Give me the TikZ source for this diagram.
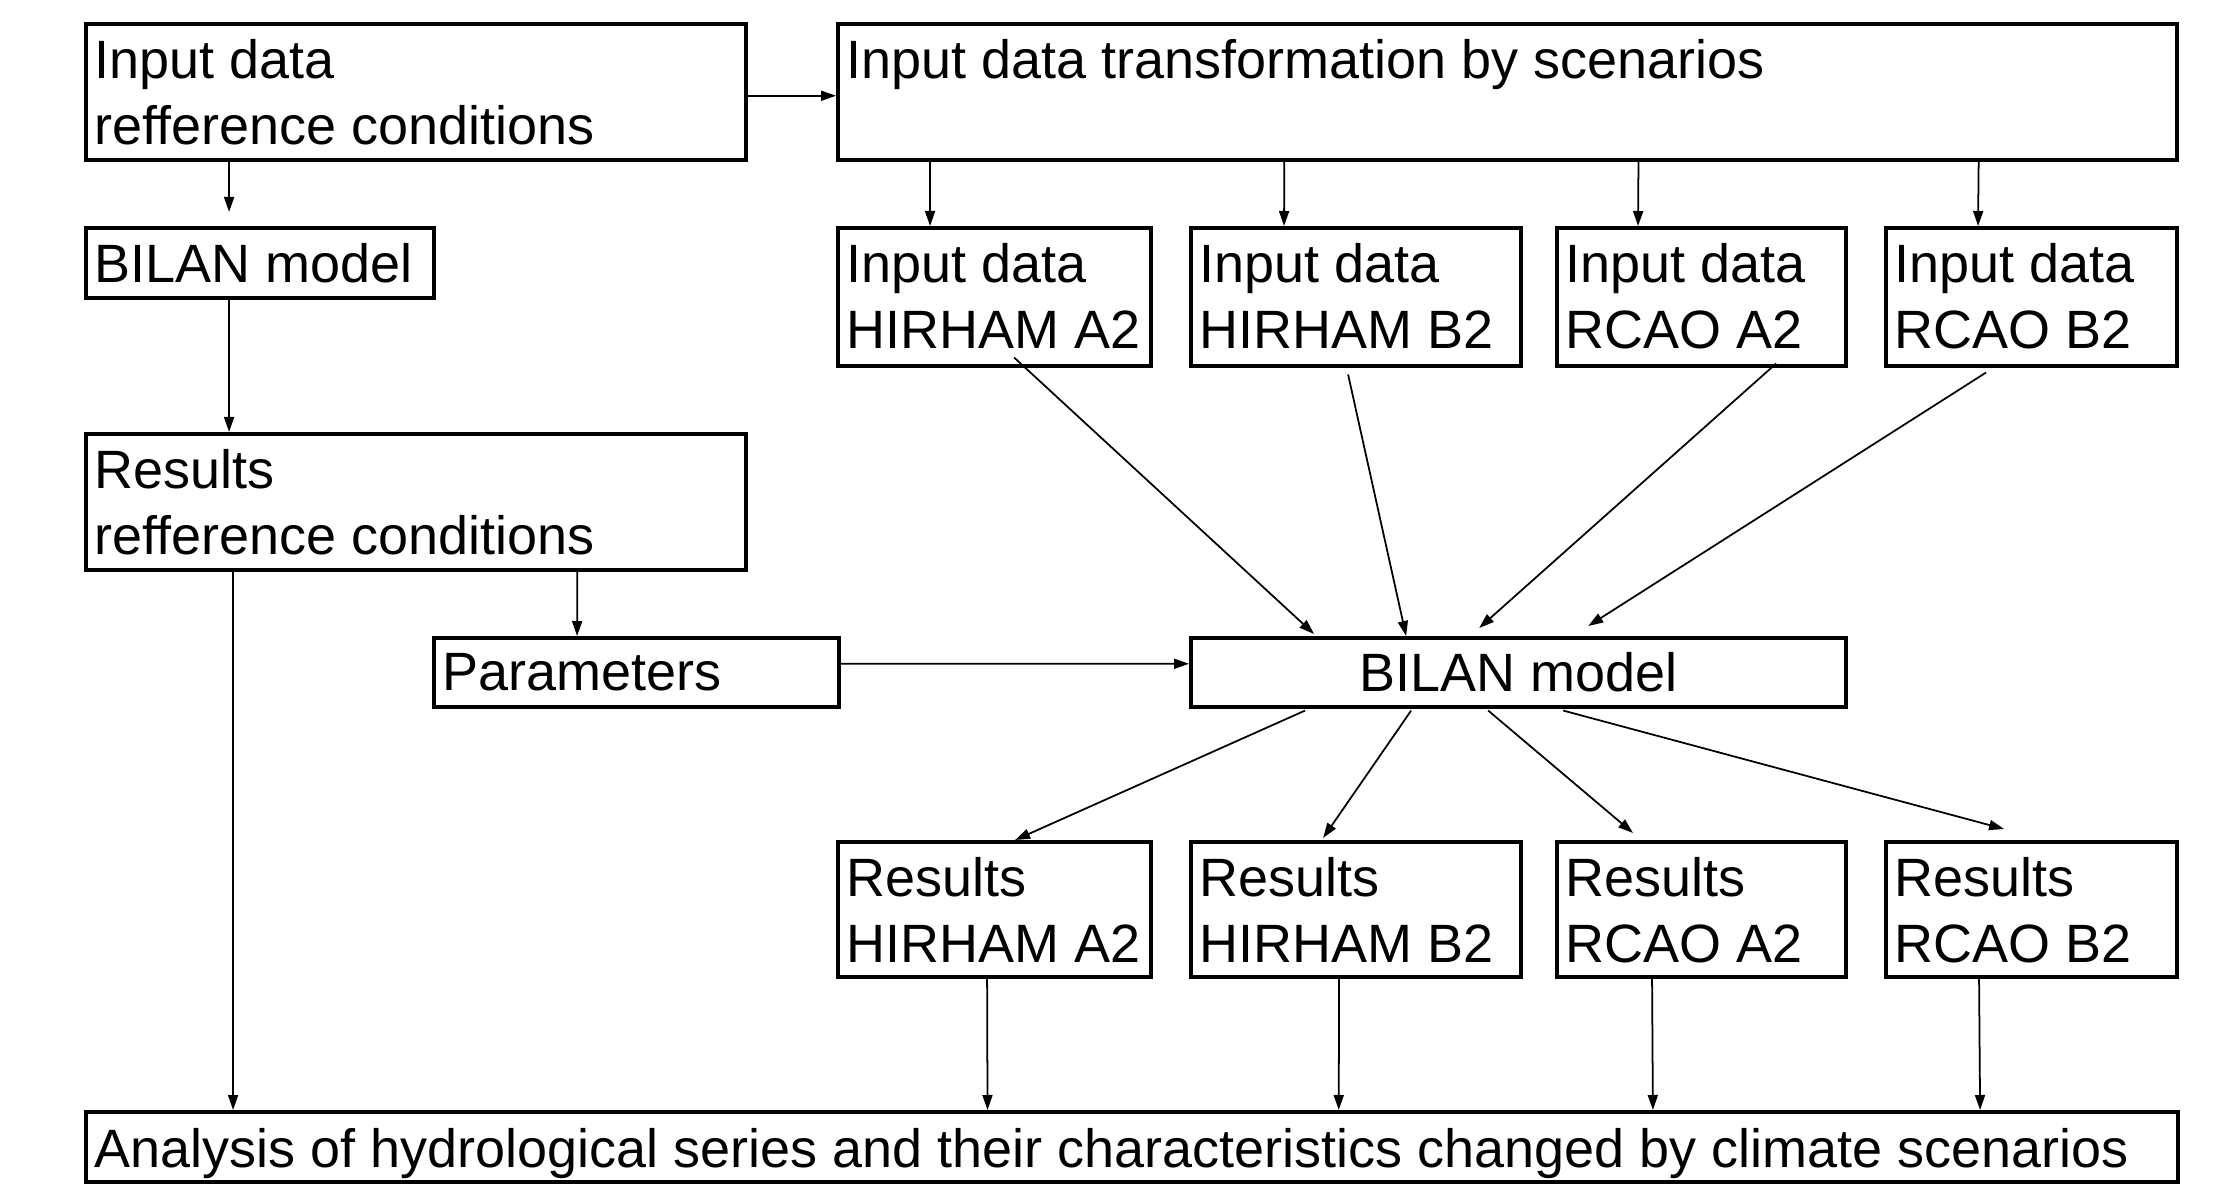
\documentclass[tikz,border=0pt]{standalone}
\usepackage{fontspec}
\setmainfont{Liberation Sans}
\usetikzlibrary{arrows.meta}

\tikzset{
  box/.style={draw, line width=1pt, inner sep=0pt, anchor=north west},
  boxtext/.style={anchor=north west, inner sep=0pt, align=left,
    font=\fontsize{15.35}{18.8}\selectfont},
  arr/.style={-{Triangle[length=0.15cm,width=0.1cm]}, line width=0.5pt},
}

% \flowbox{name}{x1}{y1}{x2}{y2}{text}: framed box with its text in the top left corner
\newcommand\flowbox[6]{%
  \node[box, minimum width={(#4-#2)*0.01cm}, minimum height={(#5-#3)*0.01cm}] (#1) at (#2,#3) {};
  \node[boxtext] (#1-text) at ([shift={(0.10cm,-0.17cm)}]#1.north west) {#6};
}

\begin{document}
\begin{tikzpicture}[x=0.01cm, y=-0.01cm]
  \useasboundingbox (0,0) rectangle (2221,1185);

  % reference branch
  \flowbox{inref}{84}{22}{744}{158}{Input data\\refference conditions}
  \flowbox{bil1}{84}{226}{432}{296}{BILAN model}
  \flowbox{resref}{84}{432}{744}{568}{Results\\refference conditions}
  \flowbox{par}{432}{636}{837}{705}{Parameters}

  % scenario branch
  \flowbox{trans}{836}{22}{2175}{158}{Input data transformation by scenarios}
  \flowbox{ia2}{836}{226}{1149}{364}{Input data\\HIRHAM A2}
  \flowbox{ib2}{1189}{226}{1519}{364}{Input data\\HIRHAM B2}
  \flowbox{ra2}{1555}{226}{1844}{364}{Input data\\RCAO A2}
  \flowbox{rb2}{1884}{226}{2175}{364}{Input data\\RCAO B2}

  \node[box, minimum width=6.55cm, minimum height=0.69cm,
        font=\fontsize{15.35}{18.8}\selectfont] (bil2) at (1189,636) {BILAN model};

  \flowbox{rha2}{836}{840}{1149}{975}{Results\\HIRHAM A2}
  \flowbox{rhb2}{1189}{840}{1519}{975}{Results\\HIRHAM B2}
  \flowbox{rra2}{1555}{840}{1844}{975}{Results\\RCAO A2}
  \flowbox{rrb2}{1884}{840}{2175}{975}{Results\\RCAO B2}

  \node[box, minimum width=20.91cm, minimum height=0.70cm] (ana) at (84,1110) {};
  \node[boxtext] (ana-text) at ([shift={(0.10cm,-0.18cm)}]ana.north west)
    {Analysis of hydrological series and their characteristics changed by climate scenarios};

  % reference branch connectors
  \draw[arr] ([yshift=-0.04cm]inref.east) -- ([yshift=-0.04cm]trans.west);
  \draw[arr, shorten >=0.14cm] ([xshift=1.45cm]inref.south west) -- ([xshift=1.45cm]bil1.north west);
  \draw[arr] ([xshift=1.45cm]bil1.south west) -- ([xshift=1.45cm]resref.north west);
  \draw[arr] ([xshift=1.49cm]resref.south west) -- ([xshift=1.49cm]ana.north west);
  \draw[arr] ([xshift=4.93cm]resref.south west) -- ([xshift=1.45cm]par.north west);
  \draw[arr] ([yshift=0.085cm]par.east) -- ([yshift=0.085cm]bil2.west);

  % scenario inputs
  \draw[arr] ([xshift=0.94cm]trans.south west) -- ([xshift=0.94cm]ia2.north west);
  \draw[arr] ([xshift=4.48cm]trans.south west) -- ([xshift=0.95cm]ib2.north west);
  \draw[arr] ([xshift=8.02cm]trans.south west) -- ([xshift=0.83cm]ra2.north west);
  \draw[arr] ([xshift=11.42cm]trans.south west) -- ([xshift=0.94cm]rb2.north west);

  % inputs into the model
  \draw[arr] ([shift={(1.78cm,0.10cm)}]ia2.south west) -- ([shift={(1.25cm,0.02cm)}]bil2.north west);
  \draw[arr] ([shift={(1.59cm,-0.07cm)}]ib2.south west) -- ([shift={(2.17cm,0cm)}]bil2.north west);
  \draw[arr] ([shift={(2.21cm,0.04cm)}]ra2.south west) -- ([shift={(2.90cm,0.08cm)}]bil2.north west);
  \draw[arr] ([shift={(1.02cm,-0.05cm)}]rb2.south west) -- ([shift={(3.99cm,0.10cm)}]bil2.north west);

  % model outputs
  \draw[arr] ([shift={(1.16cm,-0.02cm)}]bil2.south west) -- ([shift={(1.79cm,0cm)}]rha2.north west);
  \draw[arr] ([shift={(2.22cm,-0.02cm)}]bil2.south west) -- ([shift={(1.34cm,0.02cm)}]rhb2.north west);
  \draw[arr] ([shift={(2.99cm,-0.02cm)}]bil2.south west) -- ([shift={(0.78cm,0.07cm)}]rra2.north west);
  \draw[arr] ([shift={(3.74cm,-0.02cm)}]bil2.south west) -- ([shift={(1.20cm,0.11cm)}]rrb2.north west);

  % results into the analysis
  \draw[arr] ([xshift=1.51cm]rha2.south west) -- ([xshift=9.03cm]ana.north west);
  \draw[arr] ([xshift=1.50cm]rhb2.south west) -- ([xshift=12.54cm]ana.north west);
  \draw[arr] ([xshift=0.97cm]rra2.south west) -- ([xshift=15.68cm]ana.north west);
  \draw[arr] ([xshift=0.95cm]rrb2.south west) -- ([xshift=18.95cm]ana.north west);
\end{tikzpicture}
\end{document}
